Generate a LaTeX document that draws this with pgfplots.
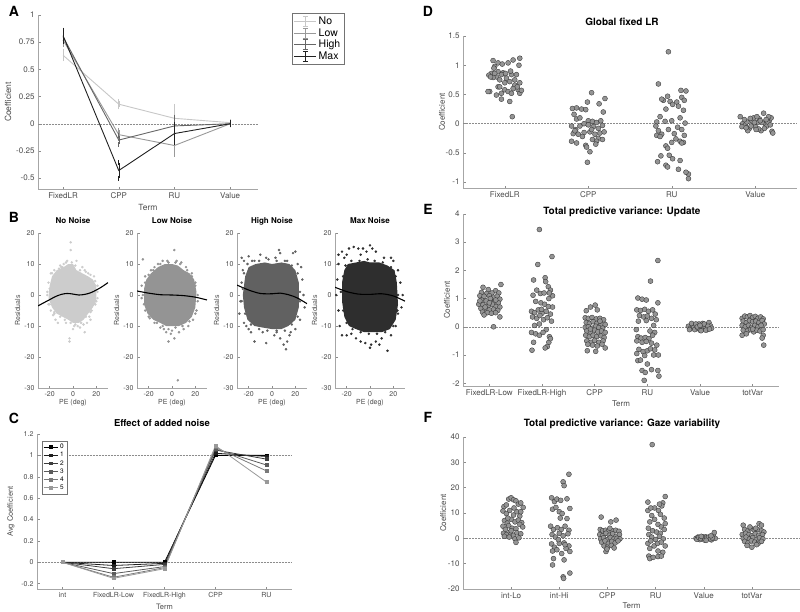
\documentclass[border=0pt]{standalone}
\usepackage{pgfplots}
\pgfplotsset{compat=1.18}
\usepackage{fontspec}
\setmainfont{TeX Gyre Heros}
\definecolor{cNo}{gray}{0.78}
\definecolor{cLow}{gray}{0.6}
\definecolor{cHigh}{gray}{0.4}
\definecolor{cMax}{gray}{0.13}
\definecolor{bNo}{gray}{0.80}
\definecolor{bLow}{gray}{0.58}
\definecolor{bHigh}{gray}{0.38}
\definecolor{bMax}{gray}{0.18}
\pgfplotsset{
 mat/.style={
  scale only axis,
  axis x line*=bottom, axis y line*=left,
  axis line style={-, draw=black!35, line width=0.5pt},
  every tick/.style={black!45, line width=0.4pt},
  tick align=inside,
  major tick length=2.5pt,
  tick label style={font=\fontsize{8}{9}\selectfont, text=black!70},
  label style={font=\fontsize{8}{9}\selectfont, text=black!70},
  title style={font=\bfseries\fontsize{10}{11}\selectfont},
  /pgf/number format/assume math mode=true,
  enlargelimits=false,
 },
 sc/.style={only marks, mark=*, mark size=2.5pt, mark options={fill=black!42, draw=black!80, line width=0.35pt}},
 zl/.style={black!45, dash pattern=on 1.5pt off 1.5pt, line width=0.5pt, forget plot},
 bsty/.style={mat, anchor=south west, width=70pt, height=155pt,
  xmin=-30, xmax=30, ymin=-30, ymax=20, xtick={-20,0,20}, ytick={-30,-20,...,20},
  tick label style={font=\fontsize{7}{8}\selectfont},
  label style={font=\fontsize{7}{8}\selectfont},
  xlabel={PE (deg)}, ylabel={Residuals},
  xlabel style={at={(axis description cs:0.5,0)}, anchor=center, yshift=-15pt},
  ylabel style={at={(axis description cs:-0.29,0.5)}, anchor=center},
  title style={at={(axis description cs:0.5,1)}, anchor=center, yshift=6pt, font=\bfseries\fontsize{8}{9}\selectfont}},
 bdot/.style={only marks, mark=*, mark size=1.05pt},
 eb/.style={error bars/.cd, y dir=both, y explicit, error mark=-, error mark options={mark size=2.5pt, line width=0.7pt}},
}
\begin{document}
\begin{tikzpicture}
\useasboundingbox (0,0) rectangle (800pt,-611pt);
\node[font=\bfseries\fontsize{14}{14}\selectfont] at (14pt,-11pt) {A};
\node[font=\bfseries\fontsize{14}{14}\selectfont] at (14pt,-217pt) {B};
\node[font=\bfseries\fontsize{14}{14}\selectfont] at (14pt,-418pt) {C};
\node[font=\bfseries\fontsize{14}{14}\selectfont] at (428pt,-11pt) {D};
\node[font=\bfseries\fontsize{14}{14}\selectfont] at (428pt,-209pt) {E};
\node[font=\bfseries\fontsize{14}{14}\selectfont] at (428pt,-417pt) {F};

% ---------------- A
\begin{axis}[mat, at={(38pt,-189pt)}, anchor=south west, width=220pt, height=174pt,
 xmin=0.55, xmax=4.5, ymin=-0.6, ymax=1,
 xtick={1,2,3,4}, xticklabels={FixedLR,CPP,RU,Value},
 ytick={-0.5,-0.25,0,0.25,0.5,0.75,1},
 label style={font=\fontsize{8.5}{9}\selectfont},
 xlabel={Term}, ylabel={Coefficient},
 xlabel style={at={(axis description cs:0.5,0)}, anchor=center, yshift=-18pt},
 ylabel style={at={(axis description cs:-0.136,0.5)}, anchor=center},
 legend cell align=left,
 legend style={at={(axis description cs:1.155,1.01)}, anchor=north west, draw=black!55, font=\fontsize{10.5}{11}\selectfont, inner sep=1.5pt, row sep=-1.5pt},
 legend image code/.code={\draw[#1, line width=0.9pt] (0pt,0pt) -- (22pt,0pt); \draw[#1, line width=0.9pt] (11pt,-5pt) -- (11pt,5pt) (8.5pt,-5pt) -- (13.5pt,-5pt) (8.5pt,5pt) -- (13.5pt,5pt);},
]
\addplot[zl, densely dotted, black!45] coordinates {(0.55,0) (4.5,0)};
\addplot[cNo, line width=0.9pt, eb] coordinates {(1,0.63) +- (0,0.03) (2,0.18) +- (0,0.025) (3,0.05) +- (0,0.11) (4,0.01) +- (0,0.012)};
\addlegendentry{No}
\addplot[cLow, line width=0.9pt, eb] coordinates {(1,0.77) +- (0,0.04) (2,-0.10) +- (0,0.04) (3,-0.20) +- (0,0.08) (4,0.0) +- (0,0.01)};
\addlegendentry{Low}
\addplot[cHigh, line width=0.9pt, eb] coordinates {(1,0.80) +- (0,0.04) (2,-0.15) +- (0,0.04) (3,-0.02) +- (0,0.08) (4,0.0) +- (0,0.01)};
\addlegendentry{High}
\addplot[cMax, line width=0.9pt, eb] coordinates {(1,0.81) +- (0,0.05) (2,-0.43) +- (0,0.07) (3,-0.09) +- (0,0.08) (4,0.0) +- (0,0.01)};
\addlegendentry{Max}
\end{axis}

% ---------------- B1
\begin{axis}[bsty, at={(38pt,-388pt)}, title={No Noise}]
\addplot[fill=bNo, draw=none] coordinates {(-20,3) (-18,6) (-14,8) (-8,9) (-4,10) (0,10) (3,8) (8,7) (13,6) (17,5) (20,3) (20,-2) (17,-4) (13,-6) (9,-8) (5,-9) (0,-9) (-4,-8) (-9,-7) (-14,-6) (-18,-4) (-21,-1)};
\addplot[bdot, bNo] coordinates {(-2,17) (-2,14.5) (-3,-14) (-3,-15) (10,-12) (-13,-9) (15,-8) (-18,7) (18,6) (-5,11) (3,11) (-8,10) (8,9) (-20,2) (-21,-3) (-16,-6) (12,-9) (4,-10) (-6,-9) (0,-11) (20,-2) (21,3) (16,-5) (-10,9) (13,7) (-15,-8) (6,-10.5) (-22,0) (-1,10.5) (1,-10) (-12,8.5) (10,8) (19,-3) (-19,-5)
 (-21,4) (-19,7) (-16,8) (-11,9.5) (-6,10.5) (2,9.5) (6,8) (11,7.5) (15,6.5) (19,4.5) (21,1) (21,-1) (19,-3) (15,-5.5) (11,-7) (7,-9) (2,-9.5) (-2,-9) (-7,-8) (-11,-7) (-16,-5.5) (-20,-3) (-22,1) (-17,-6.5) (9,-9.5) (-9,9) (14,-7)};
\addplot[black, line width=1.1pt, smooth] coordinates {(-30,-3.5) (-25,-2.5) (-20,-1.5) (-15,-0.5) (-10,0.2) (-5,0.5) (0,0.3) (5,0) (10,0.2) (15,0.7) (20,1.6) (25,2.7) (30,4)};
\end{axis}
% ---------------- B2
\begin{axis}[bsty, at={(137pt,-388pt)}, title={Low Noise}]
\addplot[fill=bLow, draw=none] coordinates {(-24,2) (-22,5) (-18,7) (-12,9) (-6,10) (0,10) (5,9.5) (10,8) (15,7) (19,5) (21,1) (20,-4) (17,-7) (12,-9) (6,-10) (0,-10) (-5,-10) (-10,-9) (-16,-8) (-21,-6) (-24,-3)};
\addplot[bdot, bLow] coordinates {(-25,11.5) (2,14.5) (5,-27.5) (-3,-15) (2,-14) (-1,-12.5) (-5,-12) (6,-12) (10,-11) (-10,-10.5) (-15,-9) (-20,-7) (-24,-3) (-26,3) (-23,6) (-15,9) (-8,11) (-3,10.5) (8,10.5) (12,9) (17,7) (20,4) (22,0) (21,-5) (18,-8) (14,-10) (-18,8) (0,-11.5) (-7,-11) (4,11) (-12,10)
 (-25,0) (-23,4) (-20,6.5) (-16,8) (-10,10) (-4,11) (3,10.5) (7,10) (13,8) (17,6) (20,3) (22,-2) (20,-6) (15,-8.5) (9,-10) (3,-10.5) (-3,-11) (-8,-10) (-13,-9) (-19,-7.5) (-23,-5) (-26,-1)};
\addplot[black, line width=1.1pt, smooth] coordinates {(-30,1.3) (-20,0.6) (-10,0.1) (0,0) (10,-0.2) (20,-0.7) (30,-1.6)};
\end{axis}
% ---------------- B3
\begin{axis}[bsty, at={(237pt,-388pt)}, title={High Noise}]
\addplot[fill=bHigh, draw=none] coordinates {(-23,6) (-20,9) (-14,10) (-6,10.5) (0,10) (8,10.5) (15,10) (20,8) (23,4) (23,-4) (20,-8) (14,-10) (8,-11) (0,-11) (-8,-10.5) (-15,-10) (-21,-8) (-24,-4) (-25,0)};
\addplot[bdot, bHigh] coordinates {(-26,12) (-24,11) (-20,12.5) (-10,13) (-5,12) (3,12) (6,14.5) (7,13.5) (13,11) (18,13.5) (20,14) (25,9) (26,5) (27,0) (28,-4) (-28,-6) (-27,-2) (-26,4) (-25,8) (-24,-9) (-20,-11) (-18,-12) (-15,-15) (-8,-12) (-5,-15.5) (2,-13) (7,-14) (10,-16) (12,-17.5) (13,-15) (16,-12) (20,-11) (24,-8) (22,10) (-15,11) (15,-13) (-22,-10) (4,-12)
 (-25,2) (-24,7) (-21,10) (-17,11) (-11,11) (-3,11.5) (4,11) (11,11) (17,9.5) (22,7) (24,1) (24,-2) (22,-7) (17,-9.5) (11,-11.5) (4,-11.5) (-4,-11.5) (-11,-11) (-18,-9.5) (-23,-6) (-26,-2)};
\addplot[black, line width=1.1pt, smooth] coordinates {(-30,3.2) (-20,1.6) (-10,0.5) (0,0.4) (7,0.6) (15,0) (22,-1) (30,-2.8)};
\end{axis}
% ---------------- B4
\begin{axis}[bsty, at={(335pt,-388pt)}, title={Max Noise}]
\addplot[fill=bMax, draw=none] coordinates {(-22,8) (-19,10) (-12,10.5) (-5,11) (0,10.5) (8,10.5) (15,9.5) (21,8) (23,4) (24,-3) (22,-8) (17,-11) (10,-12) (3,-12) (-5,-12) (-12,-11) (-18,-10) (-22,-7) (-24,-2) (-24,4)};
\addplot[bdot, bMax] coordinates {(-27,13) (-24,14) (-20,13) (-18,15) (-14,15.5) (-10,15) (-6,15) (-3,14) (0,16) (2,15) (5,14) (-8,13) (12,12) (18,12) (20,11) (24,8) (26,4) (28,0) (27,-4) (-27,10) (-28,5) (-29,0) (-27,-5) (-26,-10) (-24,-13) (-20,-13) (-16,-12.5) (-12,-14) (-8,-15) (-4,-15.5) (0,-17) (1,-16) (8,-16) (15,-18) (18,-13) (22,-10) (24,-6) (-22,12) (10,-14) (5,-15)
 (-23,6) (-21,9.5) (-16,11) (-9,11) (-2,11.5) (4,11) (11,10.5) (18,9) (22,6) (24,0) (23.5,-5) (20,-10) (13,-12) (6,-12.5) (-1,-12.5) (-8,-12) (-15,-11) (-20,-9) (-23,-5) (-25,1)};
\addplot[black, line width=1.1pt, smooth] coordinates {(-30,2.5) (-20,1.1) (-10,0.3) (0,0.2) (10,0.4) (20,-0.3) (30,-2)};
\end{axis}

% ---------------- C
\begin{axis}[mat, at={(37pt,-589pt)}, anchor=south west, width=255pt, height=155pt,
 xmin=0.5, xmax=5.5, ymin=-0.25, ymax=1.2,
 xtick={1,2,3,4,5}, xticklabels={int,FixedLR-Low,FixedLR-High,CPP,RU},
 ytick={-0.2,0,0.2,0.4,0.6,0.8,1,1.2},
 tick label style={font=\fontsize{7}{8}\selectfont},
 title={Effect of added noise},
 title style={at={(axis description cs:0.49,1)}, anchor=center, yshift=5pt, font=\bfseries\fontsize{9.5}{10}\selectfont},
 xlabel={Term}, ylabel={Avg Coefficient},
 label style={font=\fontsize{7.5}{8}\selectfont},
 xlabel style={at={(axis description cs:0.5,0)}, anchor=center, yshift=-18pt},
 ylabel style={at={(axis description cs:-0.102,0.5)}, anchor=center},
 legend cell align=left,
 legend style={at={(axis description cs:0.02,0.955)}, anchor=north west, draw=black!55, font=\fontsize{6.5}{7}\selectfont, inner sep=1pt, row sep=-2pt},
 legend image code/.code={\draw[mark repeat=2, mark phase=2, #1] plot coordinates {(0pt,0pt) (7pt,0pt) (14pt,0pt)};},
 every axis plot/.append style={mark=square*, mark size=1.4pt, line width=0.8pt},
]
\addplot[zl, densely dotted, mark=none] coordinates {(0.5,0) (5.5,0)};
\addplot[zl, densely dotted, mark=none] coordinates {(0.5,1) (5.5,1)};
\addplot[black] coordinates {(1,0) (2,0.0) (3,0.0) (4,1.0) (5,1.0)};
\addplot[black!88] coordinates {(1,0) (2,-0.03) (3,-0.01) (4,1.02) (5,0.99)};
\addplot[black!76] coordinates {(1,0) (2,-0.06) (3,-0.02) (4,1.05) (5,0.965)};
\addplot[black!64] coordinates {(1,0) (2,-0.106) (3,-0.04) (4,1.06) (5,0.91)};
\addplot[black!52] coordinates {(1,0) (2,-0.14) (3,-0.05) (4,1.075) (5,0.855)};
\addplot[black!40] coordinates {(1,0) (2,-0.15) (3,-0.06) (4,1.09) (5,0.75)};
\legend{0,1,2,3,4,5}
\end{axis}

% ---------------- D
\begin{axis}[mat, at={(463pt,-188pt)}, anchor=south west, width=334pt, height=152pt,
 xmin=0.5, xmax=4.5, ymin=-1.1, ymax=1.5,
 xtick={1,2,3,4}, xticklabels={FixedLR,CPP,RU,Value},
 ytick={-1,-0.5,0,0.5,1,1.5},
 title={Global fixed LR},
 title style={at={(axis description cs:0.476,1)}, anchor=center, yshift=8pt},
 ylabel={Coefficient},
 ylabel style={at={(axis description cs:-0.063,0.5)}, anchor=center},
]
\addplot[zl] coordinates {(0.5,0) (4.5,0)};
\addplot[sc] coordinates {(0.86,1.08) (0.92,1.04) (0.97,1.02) (1.04,1.04) (1.10,1.09) (1.18,1.12) (1.17,1.00) (0.88,0.98) (0.84,0.86) (0.92,0.89) (0.98,0.87) (0.81,0.83) (0.90,0.80) (0.96,0.84) (1.02,0.78) (1.08,0.84) (1.14,0.84) (1.12,0.75) (1.06,0.72) (1.12,0.66) (1.16,0.58) (1.18,0.52) (0.82,0.55) (0.92,0.63) (0.94,0.63) (0.80,0.55) (0.96,0.52) (1.00,0.58) (1.04,0.55) (1.08,0.52) (0.96,0.42) (1.06,0.38) (1.09,0.12) (0.88,0.86) (1.01,0.86) (0.86,0.79) (0.94,0.75) (1.15,0.63) (1.18,0.70) (1.00,0.70) (1.10,0.60) (0.90,0.49) (0.83,0.80) (1.20,0.57) (0.87,0.95) (1.07,0.90)};
\addplot[sc] coordinates {(2.04,0.53) (2.20,0.43) (1.99,0.37) (2.13,0.34) (1.81,0.26) (1.86,0.27) (1.92,0.25) (1.97,0.24) (2.18,0.20) (1.83,0.16) (1.86,0.08) (2.0,0.05) (2.05,0.04) (2.10,0.02) (2.15,0.05) (1.80,-0.04) (1.85,-0.10) (1.90,-0.04) (1.95,0.0) (2.00,-0.02) (2.06,-0.05) (2.12,-0.08) (2.17,-0.03) (1.82,-0.17) (1.88,-0.18) (1.95,-0.15) (2.02,-0.14) (2.08,-0.18) (2.14,-0.16) (2.19,-0.14) (1.80,-0.30) (1.86,-0.33) (1.97,-0.37) (1.98,-0.40) (2.05,-0.27) (2.12,-0.25) (2.17,-0.27) (1.93,-0.22) (2.10,-0.30) (2.02,-0.48) (1.99,-0.66) (1.84,-0.12) (2.04,-0.10) (1.90,0.10) (2.09,-0.35)};
\addplot[sc] coordinates {(2.96,1.23) (2.84,0.68) (3.11,0.57) (3.17,0.56) (2.95,0.47) (3.12,0.45) (2.90,0.40) (2.98,0.38) (3.06,0.37) (3.15,0.40) (2.88,0.42) (3.01,0.33) (3.08,0.30) (2.93,0.25) (3.14,0.23) (2.86,0.12) (3.0,0.05) (3.10,0.10) (2.82,0.03) (2.92,0.04) (3.16,0.01) (2.81,-0.04) (3.07,-0.06) (2.84,-0.12) (2.96,-0.10) (3.12,-0.10) (2.82,-0.20) (2.88,-0.18) (3.03,-0.17) (3.15,-0.20) (2.86,-0.22) (3.05,-0.26) (3.10,-0.30) (3.14,-0.32) (3.00,-0.32) (2.93,-0.38) (2.95,-0.42) (3.12,-0.33) (2.87,-0.55) (2.97,-0.54) (3.01,-0.60) (3.10,-0.63) (2.83,-0.65) (2.93,-0.71) (2.95,-0.74) (3.08,-0.78) (3.20,-0.86) (3.20,-0.94) (3.17,-0.83)};
\addplot[sc] coordinates {(3.82,0.12) (3.85,0.0) (3.88,-0.02) (3.90,0.03) (3.93,-0.08) (3.96,0.05) (3.98,0.10) (4.0,-0.05) (4.03,0.02) (4.05,0.08) (4.07,-0.12) (4.10,0.18) (4.12,0.0) (4.14,-0.04) (4.17,0.06) (4.19,0.10) (4.2,-0.13) (4.21,-0.16) (3.87,0.07) (3.91,-0.12) (3.95,-0.04) (4.02,0.12) (4.08,0.02) (4.11,-0.08) (4.15,0.03) (4.18,-0.02) (3.84,-0.05) (3.99,0.02) (4.04,-0.09) (4.16,0.12) (3.94,0.09) (4.06,0.05) (4.13,0.07) (3.89,-0.07) (4.01,-0.1)};
\end{axis}

% ---------------- E
\begin{axis}[mat, at={(463pt,-386pt)}, anchor=south west, width=316pt, height=172pt,
 xmin=0.5, xmax=6.5, ymin=-2.1, ymax=4,
 xtick={1,2,3,4,5,6}, xticklabels={FixedLR-Low,FixedLR-High,CPP,RU,Value,totVar},
 ytick={-2,-1,0,1,2,3,4},
 title={Total predictive variance: Update},
 title style={at={(axis description cs:0.503,1)}, anchor=center, yshift=-4pt},
 xlabel={Term}, ylabel={Coefficient},
 xlabel style={at={(axis description cs:0.5,0)}, anchor=center, yshift=-18pt},
 ylabel style={at={(axis description cs:-0.051,0.5)}, anchor=center},
]
\addplot[zl] coordinates {(0.5,0) (6.5,0)};
\addplot[sc] coordinates {(1.22,1.5) (0.88,1.4) (0.98,1.32) (1.12,1.28) (0.85,1.22) (0.95,1.18) (1.05,1.2) (1.18,1.2) (0.82,1.1) (0.9,1.08) (1.0,1.1) (1.08,1.05) (1.15,1.08) (1.2,0.98) (0.85,0.95) (0.94,0.92) (1.03,0.9) (1.1,0.88) (1.17,0.85) (0.8,0.8) (0.88,0.78) (0.98,0.75) (1.06,0.8) (1.13,0.72) (1.2,0.7) (0.84,0.65) (0.92,0.62) (1.0,0.6) (1.08,0.62) (1.16,0.58) (0.87,0.52) (0.96,0.5) (1.04,0.48) (1.12,0.5) (1.2,0.35) (0.9,0.42) (1.08,0.0) (0.82,0.92) (1.02,1.0) (1.12,0.95) (0.92,0.7) (1.0,0.85)};
\addplot[sc] coordinates {(1.95,3.45) (2.19,2.49) (1.92,2.21) (1.84,1.66) (2.06,1.74) (2.07,1.6) (2.12,1.42) (2.16,1.3) (2.2,1.1) (1.9,1.3) (1.97,1.18) (2.04,1.2) (2.14,1.2) (1.83,1.12) (1.88,0.9) (1.98,0.85) (2.05,0.8) (2.12,0.72) (2.2,0.7) (1.8,0.55) (1.86,0.5) (1.93,0.6) (2.0,0.48) (2.08,0.55) (2.16,0.45) (1.82,0.35) (1.9,0.3) (1.96,0.4) (2.03,0.25) (2.1,0.32) (2.18,0.2) (1.86,0.05) (1.95,0.1) (2.08,-0.1) (1.8,-0.2) (1.88,-0.25) (1.95,-0.3) (2.02,-0.2) (2.14,-0.35) (1.84,-0.55) (2.13,-0.55) (2.16,-0.42) (2.1,-0.7) (2.06,-0.75) (1.81,-0.83) (1.99,0.62) (2.13,1.0)};
\addplot[sc] coordinates {(3.01,0.77) (2.92,0.7) (2.84,0.57) (3.05,0.6) (2.82,0.32) (2.88,0.3) (2.95,0.33) (3.03,0.28) (3.1,0.3) (3.17,0.25) (2.84,0.15) (2.9,0.12) (2.97,0.18) (3.04,0.12) (3.12,0.1) (3.2,0.08) (2.82,-0.02) (2.88,0.0) (2.96,-0.05) (3.02,0.02) (3.08,-0.03) (3.15,-0.05) (2.85,-0.15) (2.92,-0.18) (3.0,-0.12) (3.06,-0.18) (3.13,-0.15) (3.2,-0.2) (2.83,-0.3) (2.9,-0.35) (2.97,-0.3) (3.04,-0.35) (3.12,-0.32) (3.18,-0.38) (2.85,-0.5) (2.93,-0.55) (3.0,-0.48) (3.08,-0.55) (3.16,-0.5) (2.87,-0.62) (2.96,-0.65) (3.05,-0.68) (3.14,-0.62) (3.2,-0.75) (2.86,-0.85) (3.02,-0.87) (2.92,-0.08) (3.1,0.2)};
\addplot[sc] coordinates {(4.2,2.35) (4.06,1.62) (3.82,1.02) (3.9,0.98) (3.98,0.95) (4.2,0.85) (4.15,0.45) (3.8,0.6) (3.87,0.58) (3.95,0.62) (4.02,0.55) (4.1,0.6) (3.85,0.4) (3.93,0.35) (4.0,0.38) (4.08,0.3) (4.17,0.25) (3.83,0.2) (3.98,0.22) (4.12,0.05) (3.79,-0.1) (4.05,-0.15) (4.14,-0.2) (3.82,-0.35) (3.88,-0.4) (3.96,-0.38) (4.03,-0.42) (4.1,-0.3) (3.8,-0.5) (3.9,-0.55) (3.98,-0.52) (4.08,-0.58) (4.18,-0.65) (3.84,-0.8) (3.92,-0.88) (4.0,-0.85) (4.06,-0.78) (4.14,-0.82) (3.8,-0.95) (3.95,-1.02) (4.12,-1.0) (4.21,-1.0) (3.82,-1.2) (3.87,-1.18) (4.0,-1.32) (3.9,-1.55) (3.96,-1.62) (4.08,-1.52) (4.2,-1.55) (4.22,-1.75) (3.94,-1.9)};
\addplot[sc] coordinates {(4.78,0.02) (4.82,-0.05) (4.85,0.08) (4.88,0.0) (4.9,-0.1) (4.93,0.05) (4.96,-0.04) (4.98,0.1) (5.0,-0.12) (5.03,0.02) (5.05,0.12) (5.07,-0.08) (5.1,0.0) (5.12,0.08) (5.14,-0.1) (5.17,0.15) (5.2,0.03) (5.22,-0.05) (4.84,0.12) (4.92,0.1) (5.02,-0.14) (5.08,0.1) (5.15,0.02) (4.95,0.0) (5.0,0.05) (5.11,-0.12) (4.8,-0.1) (5.18,-0.08)};
\addplot[sc] coordinates {(5.8,0.3) (5.85,0.38) (5.9,0.35) (5.95,0.4) (6.0,0.33) (6.05,0.37) (6.1,0.3) (6.15,0.35) (6.2,0.28) (5.82,0.2) (5.88,0.15) (5.94,0.22) (6.0,0.18) (6.06,0.2) (6.12,0.15) (6.18,0.22) (6.22,0.1) (5.8,0.05) (5.86,0.0) (5.92,0.05) (5.98,-0.02) (6.04,0.05) (6.1,0.0) (6.16,0.05) (5.82,-0.12) (5.9,-0.15) (5.96,-0.1) (6.02,-0.18) (6.08,-0.12) (6.14,-0.15) (6.2,-0.1) (5.8,-0.3) (6.2,-0.3) (6.18,-0.4) (6.21,-0.65) (5.88,-0.25) (6.0,-0.08)};
\end{axis}

% ---------------- F
\begin{axis}[mat, at={(463pt,-589pt)}, anchor=south west, width=337pt, height=152pt,
 xmin=0, xmax=7, ymin=-20, ymax=40,
 xtick={1,2,3,4,5,6}, xticklabels={int-Lo,int-Hi,CPP,RU,Value,totVar},
 ytick={-20,-10,0,10,20,30,40},
 title={Total predictive variance: Gaze variability},
 title style={at={(axis description cs:0.472,1)}, anchor=center, yshift=7pt},
 xlabel={Term}, ylabel={Coefficient},
 xlabel style={at={(axis description cs:0.5,0)}, anchor=center, yshift=-17pt},
 ylabel style={at={(axis description cs:-0.059,0.5)}, anchor=center},
]
\addplot[zl] coordinates {(0,0) (7,0)};
\addplot[sc] coordinates {(0.85,12.5) (0.9,13.2) (0.95,15.5) (1.0,16.0) (1.05,15.2) (1.1,14.8) (1.15,13.5) (1.2,14.0) (1.25,12.2) (0.83,10.8) (0.9,9.8) (0.97,11.0) (1.05,9.2) (1.12,10.5) (1.18,8.8) (0.86,7.0) (0.92,6.0) (1.0,7.5) (1.08,6.5) (1.15,7.2) (1.22,6.2) (0.83,4.8) (0.88,3.5) (0.95,5.0) (1.02,4.0) (1.1,3.8) (1.18,5.5) (1.24,4.5) (0.84,2.0) (0.9,1.5) (0.98,2.5) (1.05,1.2) (1.12,2.2) (1.2,1.8) (0.86,0.8) (0.96,0.5) (1.08,-0.2) (1.16,0.2) (1.1,-1.6) (1.0,3.0) (0.93,8.0) (1.2,10.5) (1.06,12.0)};
\addplot[sc] coordinates {(2.2,25.3) (2.08,22.3) (2.1,20.8) (1.84,16.0) (2.16,15.6) (1.9,14.5) (1.95,15.5) (2.03,15.0) (2.22,11.8) (1.86,11.5) (1.93,12.2) (2.0,10.5) (2.16,7.8) (2.06,9.8) (2.02,8.0) (1.82,4.8) (1.88,3.5) (1.96,4.2) (2.04,3.5) (2.12,4.8) (2.2,3.2) (1.85,1.5) (1.92,0.5) (2.0,2.0) (2.08,1.0) (2.18,1.8) (1.84,-2.2) (1.9,-3.5) (2.0,-2.0) (2.1,-1.8) (2.2,-3.0) (1.86,-5.0) (1.95,-4.5) (2.05,-6.0) (2.14,-4.0) (2.22,-5.2) (1.88,-8.0) (2.1,-8.5) (1.86,-10.5) (2.22,-13.7) (2.08,-15.2) (2.09,-15.8) (1.98,-0.5) (2.12,-2.5)};
\addplot[sc] coordinates {(2.87,8.4) (3.07,6.5) (3.18,7.2) (2.85,3.5) (2.9,3.0) (2.96,3.2) (3.02,2.8) (3.1,3.0) (3.17,3.2) (3.24,2.8) (2.84,1.5) (2.9,1.0) (2.97,2.0) (3.04,1.2) (3.11,1.8) (3.18,0.8) (3.25,1.5) (2.86,-0.2) (2.92,0.2) (3.0,-0.5) (3.06,0.3) (3.13,-0.3) (3.2,0.0) (3.26,-0.2) (2.88,-1.5) (2.95,-1.0) (3.02,-2.0) (3.09,-1.2) (3.16,-1.8) (3.22,-1.0) (2.93,-3.0) (3.0,-3.5) (3.08,-2.8) (3.14,-3.8) (2.97,-5.2) (2.99,-4.2) (3.05,4.0)};
\addplot[sc] coordinates {(3.93,37.0) (4.2,16.5) (3.84,14.3) (4.15,14.0) (4.13,12.8) (3.98,12.0) (4.06,11.0) (3.84,11.0) (3.92,9.0) (4.1,9.5) (4.18,8.0) (3.88,6.5) (3.98,7.5) (4.05,5.5) (4.2,5.8) (4.12,4.5) (3.85,4.0) (3.94,3.0) (4.02,2.5) (4.1,2.0) (4.18,3.5) (3.86,1.5) (3.92,0.5) (4.0,-0.5) (4.08,0.8) (4.16,-0.2) (3.84,-2.0) (3.9,-1.0) (3.97,-3.0) (4.04,-2.0) (4.12,-1.5) (4.2,-3.0) (3.88,-4.0) (4.05,-5.0) (4.15,-5.5) (3.86,-7.0) (3.88,-8.0) (3.95,-7.5) (4.05,-7.2) (4.12,-7.0) (3.9,12.0) (4.08,13.5)};
\addplot[sc] coordinates {(4.84,0.0) (4.88,0.5) (4.92,-0.5) (4.96,0.2) (5.0,-0.3) (5.04,0.6) (5.08,-0.2) (5.12,0.3) (5.16,-0.6) (5.2,0.8) (5.22,2.3) (5.24,0.0) (4.86,-0.4) (4.9,0.3) (4.94,-0.1) (4.98,0.6) (5.02,-0.7) (5.06,0.1) (5.1,0.5) (5.14,-0.2) (5.18,0.2) (4.95,0.8) (5.05,-0.8) (5.15,1.0)};
\addplot[sc] coordinates {(5.82,5.2) (6.15,5.8) (6.2,5.2) (5.85,3.5) (5.92,3.0) (5.98,3.8) (6.05,3.2) (6.12,3.5) (6.2,3.0) (6.25,2.5) (5.8,1.5) (5.87,2.0) (5.94,1.5) (6.0,1.0) (6.07,1.8) (6.14,1.2) (6.22,1.5) (5.82,0.0) (5.88,0.5) (5.95,-0.3) (6.02,0.3) (6.09,-0.5) (6.16,0.2) (6.23,-0.2) (5.85,-1.2) (5.92,-1.8) (5.99,-1.0) (6.06,-1.5) (6.13,-2.0) (6.2,-1.2) (5.9,-2.8) (6.0,-3.5) (6.1,-2.5) (5.96,4.5) (6.08,4.0)};
\end{axis}
\end{tikzpicture}
\end{document}
